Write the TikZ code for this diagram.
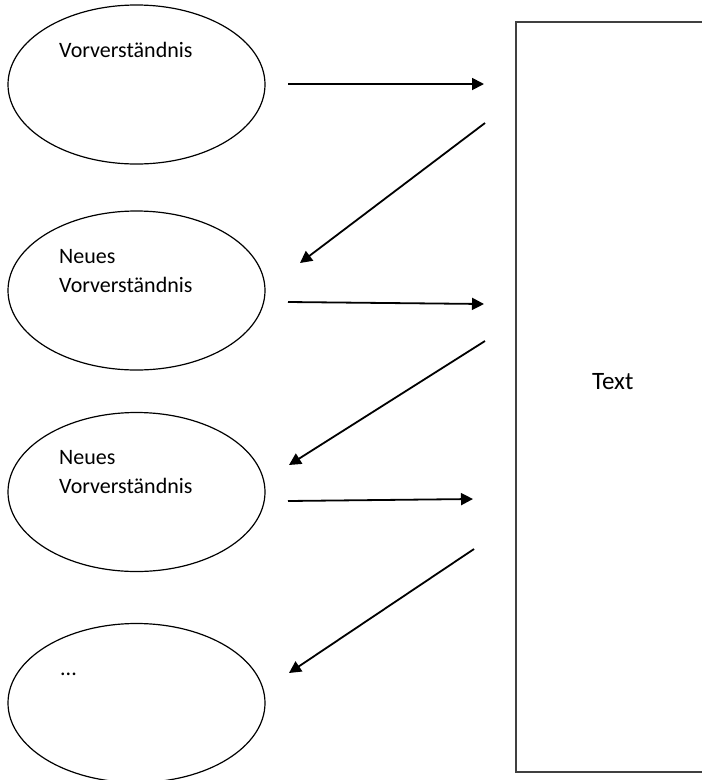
\documentclass[tikz,border=0pt]{standalone}
\usepackage{fontspec}
\setmainfont{Carlito}
\usetikzlibrary{shapes.geometric,arrows.meta}
\tikzset{vorv/.style={draw,ellipse,line width=1.2pt,minimum width=257pt,minimum height=159pt,inner sep=0pt}}
\tikzset{pfeil/.style={line width=1.8pt,-{Triangle[length=12pt,width=12pt]}}}
\tikzset{lbl/.style={anchor=base west,inner sep=0pt,font=\fontsize{22}{29}\selectfont}}

\begin{document}
\begin{tikzpicture}[x=1pt,y=1pt]
\useasboundingbox (0,0) rectangle (702,-780);

% ellipses on the left
\node[vorv] (v1) at (136.5,-84.5) {};
\node[vorv] (v2) at (136.5,-290.5) {};
\node[vorv] (v3) at (136.5,-492) {};
\node[vorv] (v4) at (136.5,-703) {};

\node[lbl] (t1) at (59,-57) {Vorverständnis};
\node[lbl] (t2a) at (59,-263) {Neues};
\node[lbl] (t2b) at (59,-292) {Vorverständnis};
\node[lbl] (t3a) at (59,-464.5) {Neues};
\node[lbl] (t3b) at (59,-493.5) {Vorverständnis};
\node[lbl] (t4) at (60,-675) {...};

% the text (right side runs off the page)
\node[draw=black!75,line width=1.6pt,minimum width=194pt,minimum height=750pt,
  inner sep=0pt] (box) at (613,-397) {};
\node[lbl,font=\fontsize{25}{30}\selectfont] (txt) at (592,-389) {Text};

% arrow ends
\path (288,-84) coordinate (a1);
\path (484,-84) coordinate (b1);
\path (485,-123) coordinate (c1);
\path (300,-263) coordinate (d1);
\path (288,-302) coordinate (a2);
\path (484,-304) coordinate (b2);
\path (485,-341) coordinate (c2);
\path (289,-465) coordinate (d2);
\path (288,-501) coordinate (a3);
\path (473,-499) coordinate (b3);
\path (474,-549) coordinate (c3);
\path (289,-673) coordinate (d3);

\foreach \i in {1,2,3}{
  \draw[pfeil] (a\i) -- (b\i);
  \draw[pfeil] (c\i) -- (d\i);
}

\end{tikzpicture}
\end{document}
